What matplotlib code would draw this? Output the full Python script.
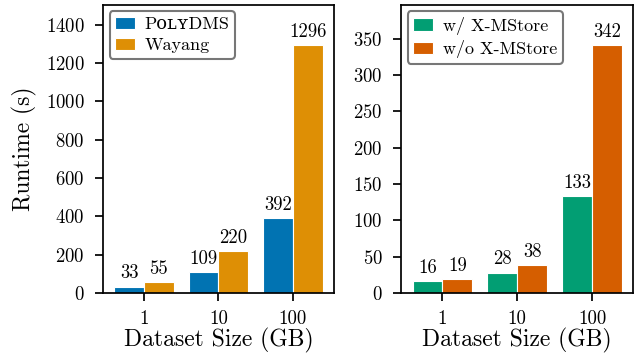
import matplotlib
matplotlib.use("Agg")
import matplotlib.pyplot as plt
import numpy as np

plt.rcParams['font.family'] = ['cmr10', 'DejaVu Serif', 'DejaVu Sans']
plt.rcParams['axes.formatter.use_mathtext'] = True
plt.rcParams['mathtext.fontset'] = 'cm'

sizes = ["1", "10", "100"]
polydms = [33, 109, 392]
wayang = [55, 220, 1296]
with_xm = [16, 28, 133]
without_xm = [19, 38, 342]

left_ticks = np.arange(0, 1401, 200)
right_ticks = np.arange(0, 351, 50)

c_blue = "#0173b2"
c_orange = "#de8f05"
c_green = "#029e73"
c_red = "#d55e00"

fig = plt.figure(figsize=(6.37, 3.58), dpi=100)
ax1 = fig.add_axes([0.162, 0.182, 0.362, 0.804])
ax2 = fig.add_axes([0.630, 0.182, 0.364, 0.804])


def draw(ax, a, b, la, lb, ca, cb, yticks, ylabel):
    x = np.arange(len(sizes))
    w = 0.4
    r1 = ax.bar(x - w / 2, a, w, color=ca, edgecolor="white", linewidth=0.8, label=la)
    r2 = ax.bar(x + w / 2, b, w, color=cb, edgecolor="white", linewidth=0.8, label=lb)
    ax.bar_label(r1, padding=3, fontsize=13.5)
    ax.bar_label(r2, padding=3, fontsize=13.5)
    ax.set_xticks(x)
    ax.set_xticklabels(sizes)
    ax.set_xlim(-0.55, 2.55)
    ax.set_ylim(0, max(max(a), max(b)) * 1.16)
    ax.set_yticks(yticks)
    ax.set_xlabel("Dataset Size (GB)", fontsize=17, labelpad=0)
    if ylabel:
        ax.set_ylabel("Runtime (s)", fontsize=17, labelpad=6)
    ax.tick_params(axis="both", labelsize=13.5, length=5.5, width=1.25, pad=8)
    ax.tick_params(axis="x", pad=7)
    for s in ax.spines.values():
        s.set_linewidth(1.25)
    leg = ax.legend(loc="upper left", fontsize=13, fancybox=True, framealpha=1,
                    borderpad=0.3, handlelength=1.1, handleheight=0.7,
                    handletextpad=0.55, labelspacing=0.3, borderaxespad=0.35)
    leg.get_frame().set_edgecolor("#777777")
    leg.get_frame().set_linewidth(1.5)


draw(ax1, polydms, wayang, "P\u1d0f\u029f\u028fDMS", "Wayang", c_blue, c_orange, left_ticks, True)
draw(ax2, with_xm, without_xm, "w/ X-MStore", "w/o X-MStore", c_green, c_red, right_ticks, False)

fig.savefig("out.png", dpi=100)
